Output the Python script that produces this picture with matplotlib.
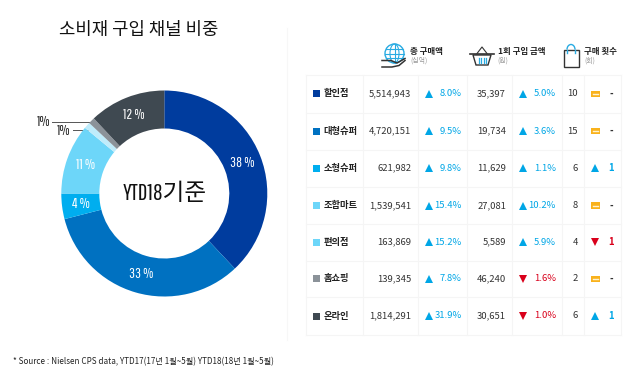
import matplotlib
matplotlib.use("Agg")
import matplotlib.pyplot as plt
import matplotlib.font_manager as fm
import numpy as np
from matplotlib.patches import Circle, Rectangle, Polygon, Arc, Ellipse

KR = 'Noto Sans CJK KR'
avail = {f.name for f in fm.fontManager.ttflist}
NARROW = ['Pathway Gothic One', KR] if 'Pathway Gothic One' in avail else [KR]
plt.rcParams['font.family'] = [KR, 'DejaVu Sans']

# ---- data ----
title = '소비재 구입 채널 비중'
center_label = 'YTD18기준'
source = '* Source : Nielsen CPS data, YTD17(17년 1월~5월) YTD18(18년 1월~5월)'
shares = [38, 33, 4, 11, 1, 1, 12]
share_colors = ['#003C9E', '#0071C1', '#00AEEF', '#6DD6F9', '#BFECFB', '#8B9299', '#3F4951']
channels = ['할인점', '대형슈퍼', '소형슈퍼', '조합마트', '편의점', '홈쇼핑', '온라인']
chip_colors = ['#003C9E', '#0071C1', '#00AEEF', '#6DD6F9', '#6DD6F9', '#8B9299', '#3F4951']
spend = ['5,514,943', '4,720,151', '621,982', '1,539,541', '163,869', '139,345', '1,814,291']
spend_chg = [8.0, 9.5, 9.8, 15.4, 15.2, 7.8, 31.9]
per_trip = ['35,397', '19,734', '11,629', '27,081', '5,589', '46,240', '30,651']
per_trip_chg = [5.0, 3.6, 1.1, 10.2, 5.9, -1.6, -1.0]
trips = [10, 15, 6, 8, 4, 2, 6]
trips_chg = [0, 0, 1, 0, -1, 0, 1]
headers = [('총 구매액', '(십억)', 410), ('1회 구입 금액', '(원)', 497.5), ('구매 횟수', '(회)', 584)]

# ---- layout ----
W, H = 640, 371
row_edges = [75, 112.5, 149.5, 187, 224, 260.5, 297, 335]
col_edges = [306, 362.5, 418, 467, 512, 561.5, 584, 620.5]
UP, DOWN, FLAT = '#00A6E6', '#D9001B', '#F9B21C'
TXT = '#333333'
GRID = '#F5F5F5'

fig = plt.figure(figsize=(W/100, H/100), dpi=100, facecolor='white')
ax = fig.add_axes([0, 0, 1, 1])
ax.set_xlim(0, W); ax.set_ylim(H, 0); ax.axis('off')

# donut
cx, cy, R, r = 164.3, 193.5, 103, 65
dax = fig.add_axes([(cx-R)/W, 1-(cy+R)/H, 2*R/W, 2*R/H])
wedges, _ = dax.pie(shares, colors=share_colors, startangle=90, counterclock=False,
                    radius=1, wedgeprops=dict(width=1-r/R, linewidth=0))
dax.set_xlim(-1, 1); dax.set_ylim(-1, 1); dax.set_aspect('equal')
for w, v in zip(wedges, shares):
    if v > 1:
        a = np.deg2rad((w.theta1+w.theta2)/2)
        rm = (1+r/R)/2
        dax.text(rm*np.cos(a), rm*np.sin(a), f'{v} %', color='white', ha='center', va='center',
                 family=NARROW, fontsize=10.5)
dax.text(0, 0, center_label, ha='center', va='center', family=NARROW, fontsize=17, color='#111111')

# small-slice callouts
ax.plot([52, 92], [122, 122], color='#555555', lw=0.7)
ax.plot([73, 89], [129.5, 129.5], color='#555555', lw=0.7)
ax.text(44, 122, f'{shares[5]}%', ha='center', va='center', family=NARROW, fontsize=10.5, color='#222222')
ax.text(64, 131, f'{shares[4]}%', ha='center', va='center', family=NARROW, fontsize=10.5, color='#222222')

ax.text(139, 30, title, ha='center', va='center', fontsize=12.8, color='#111111')
ax.text(13, 361.5, source, ha='left', va='center', fontsize=5.85, color='#222222', fontweight='medium')

# divider between chart and table
ax.plot([286.7, 286.7], [28, 340], color='#F7F7F7', lw=0.8)

# table grid
for y in row_edges:
    ax.plot([col_edges[0], col_edges[-1]], [y, y], color=GRID, lw=0.8)
for x in col_edges:
    ax.plot([x, x], [row_edges[0], row_edges[-1]], color=GRID, lw=0.8)

def delta(x, y, v):
    up = v > 0
    ax.plot([x], [y], marker='^' if up else 'v', ms=6, color=UP if up else DOWN, mew=0, ls='none')
    return UP if up else DOWN

fs = 6.8
for i, name in enumerate(channels):
    y = (row_edges[i]+row_edges[i+1])/2
    ax.add_patch(Rectangle((312.5, y-3.5), 7, 7, color=chip_colors[i], lw=0))
    ax.text(323.5, y, name, ha='left', va='center', fontsize=6.7, fontweight='bold', color='#222222')
    ax.text(411, y, spend[i], ha='right', va='center', fontsize=fs, color=TXT)
    c = delta(428.5, y, spend_chg[i])
    ax.text(461.5, y, f'{abs(spend_chg[i]):.1f}%', ha='right', va='center', fontsize=fs, color=c, fontweight='medium')
    ax.text(506, y, per_trip[i], ha='right', va='center', fontsize=fs, color=TXT)
    c = delta(523, y, per_trip_chg[i])
    ax.text(556, y, f'{abs(per_trip_chg[i]):.1f}%', ha='right', va='center', fontsize=fs, color=c, fontweight='medium')
    ax.text(578, y, str(trips[i]), ha='right', va='center', fontsize=fs, color=TXT)
    t = trips_chg[i]
    if t == 0:
        ax.add_patch(Rectangle((591, y-3.2), 8.5, 6.4, fc=FLAT, ec='none'))
        ax.plot([593, 597.5], [y, y], color='#FFF3D0', lw=1)
        ax.text(613.5, y, '-', ha='right', va='center', fontsize=fs, color=TXT, fontweight='bold')
    else:
        c = delta(595, y, t)
        ax.text(614, y, str(abs(t)), ha='right', va='center', fontsize=fs, color=c, fontweight='bold')

# headers
for main, sub, x in headers:
    ax.text(x, 51.5, main, ha='left', va='center', fontsize=6.1, fontweight='bold', color='#222222')
    ax.text(x, 60.5, sub, ha='left', va='center', fontsize=5, color='#999999')

# icons
B = '#29ABE2'; D = '#333333'
gx, gy = 394.5, 53.5
ax.add_patch(Circle((gx, gy), 9.5, fc='none', ec=B, lw=1))
ax.add_patch(Ellipse((gx, gy), 9, 19, fc='none', ec=B, lw=0.8))
for dy in (-4.5, 0, 4.5):
    hw = np.sqrt(9.5**2-dy**2)
    ax.plot([gx-hw, gx+hw], [gy+dy, gy+dy], color=B, lw=0.8)
ax.plot([gx, gx], [gy-9.5, gy+9.5], color=B, lw=0.8)
ax.plot([382, 391, 397, 405], [60.5, 60.5, 63, 58.5], color=D, lw=1.1)
ax.plot([382, 392, 399, 405], [67, 67, 65.5, 60.5], color=D, lw=1.1)
ax.plot([470, 494], [54, 54], color=D, lw=1.2)
ax.add_patch(Polygon([[473, 55], [476, 65], [488, 65], [491, 55]], closed=True, fc='none', ec=D, lw=1))
ax.plot([477, 482, 487], [53.5, 47, 53.5], color=D, lw=0.8)
for bx in (478.5, 481, 483.5, 486):
    ax.plot([bx, bx], [57.5, 62.5], color=B, lw=0.9)
ax.add_patch(Rectangle((563.5, 49.5), 15, 17.5, fc='none', ec=D, lw=1))
ax.add_patch(Arc((571, 49.5), 8, 10, theta1=180, theta2=360, ec=B, lw=1))
ax.plot([567, 567], [49.5, 52.5], color=B, lw=1)
ax.plot([575, 575], [49.5, 52.5], color=B, lw=1)

fig.savefig('out.png', dpi=100, facecolor='white')
